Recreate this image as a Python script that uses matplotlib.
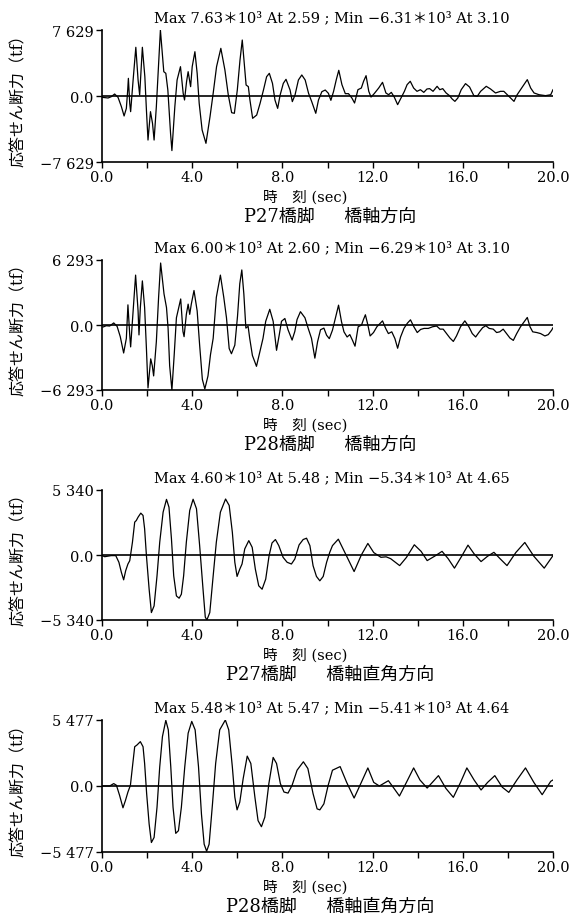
import matplotlib
matplotlib.use("Agg")
import matplotlib.pyplot as plt
import numpy as np

plt.rcParams["font.family"] = ["DejaVu Serif", "Noto Sans CJK JP"]

# response shear force time histories (tf)
p27_axial_t = [
    0.00, 0.27, 0.41, 0.56, 0.71, 0.86, 0.98, 1.08, 1.14, 1.17, 1.23, 1.27, 1.38, 1.50, 1.60,
    1.67, 1.79, 1.90, 1.97, 2.04, 2.15, 2.24, 2.31, 2.41, 2.52, 2.59, 2.74, 2.83, 2.92, 3.04,
    3.10, 3.23, 3.33, 3.48, 3.60, 3.66, 3.75, 3.82, 3.93, 4.00, 4.12, 4.22, 4.31, 4.44, 4.61,
    4.79, 4.93, 5.08, 5.27, 5.45, 5.60, 5.75, 5.87, 6.00, 6.12, 6.22, 6.31, 6.39, 6.49, 6.56,
    6.68, 6.86, 7.01, 7.16, 7.30, 7.42, 7.56, 7.67, 7.79, 7.90, 8.04, 8.16, 8.34, 8.44, 8.56,
    8.71, 8.86, 9.01, 9.16, 9.30, 9.48, 9.60, 9.75, 9.90, 10.04, 10.15, 10.27, 10.39, 10.50,
    10.64, 10.79, 10.93, 11.08, 11.20, 11.35, 11.50, 11.60, 11.71, 11.83, 11.93, 12.07, 12.27,
    12.44, 12.59, 12.71, 12.83, 12.96, 13.11, 13.26, 13.41, 13.53, 13.67, 13.82, 13.97, 14.12,
    14.27, 14.41, 14.53, 14.68, 14.86, 14.98, 15.11, 15.26, 15.41, 15.53, 15.65, 15.78, 15.93,
    16.12, 16.30, 16.49, 16.64, 16.79, 17.04, 17.23, 17.45, 17.67, 17.82, 17.97, 18.12, 18.27,
    18.41, 18.56, 18.71, 18.86, 19.01, 19.16, 19.38, 19.67, 19.90, 20.00,
]
p27_axial_v = [
    -150, -230, -80, 230, -150, -1230, -2310, -1430, 690, 2040, -850, -1810, 1850, 5630, 1850,
    120, 5630, 2230, -1620, -5090, -1810, -3160, -5090, -1230, 4160, 7629, 2810, 2620, 690, -4320,
    -6310, -1230, 1850, 3390, 310, -460, 1660, 2810, 1080, 3390, 5120, 2620, -850, -3930, -5470,
    -2390, 310, 3390, 5510, 3010, 120, -1930, -2000, 690, 4160, 6470, 3780, 1270, 1080, -460,
    -2580, -2200, -850, 690, 2230, 2620, 1460, -460, -1430, 120, 1460, 1930, 690, -650, 120,
    1850, 2430, 1850, 310, -650, -2000, -460, 500, 690, 310, -500, 540, 1890, 2970,
    1310, 270, 270, -230, -810, 730, 920, 1700, 2350, 540, -120, 270, 920,
    1580, 350, 150, 420, -120, -1000, -230, 540, 1310, 1700, 920, 540, 730,
    420, 810, 850, 540, 1120, 730, 850, 350, 40, -350, -620, -230, 730,
    1430, 1040, 40, -40, 540, 1120, 810, 350, 540, 540, 150, -230, -620,
    150, 730, 1310, 1890, 920, 350, 150, 40, 150, 730,
]

p28_axial_t = [
    0.04, 0.19, 0.34, 0.52, 0.67, 0.81, 0.96, 1.08, 1.15, 1.23, 1.27, 1.38, 1.49, 1.60, 1.64,
    1.70, 1.79, 1.89, 1.97, 2.04, 2.16, 2.23, 2.29, 2.41, 2.51, 2.60, 2.75, 2.86, 2.93, 3.00,
    3.10, 3.20, 3.30, 3.49, 3.59, 3.64, 3.74, 3.82, 3.89, 3.96, 4.08, 4.22, 4.33, 4.45, 4.56,
    4.70, 4.81, 4.93, 5.07, 5.25, 5.40, 5.52, 5.64, 5.74, 5.89, 6.01, 6.11, 6.20, 6.29, 6.38,
    6.48, 6.55, 6.67, 6.85, 7.00, 7.14, 7.26, 7.44, 7.59, 7.74, 7.86, 7.96, 8.11, 8.25, 8.43,
    8.55, 8.65, 8.80, 9.00, 9.14, 9.29, 9.44, 9.56, 9.69, 9.84, 9.96, 10.08, 10.22, 10.37,
    10.49, 10.62, 10.73, 10.87, 10.99, 11.11, 11.22, 11.36, 11.51, 11.59, 11.68, 11.79, 11.89,
    12.04, 12.19, 12.34, 12.44, 12.58, 12.70, 12.85, 12.99, 13.11, 13.24, 13.39, 13.54, 13.68,
    13.83, 13.98, 14.13, 14.28, 14.47, 14.66, 14.84, 14.99, 15.13, 15.28, 15.43, 15.58, 15.72,
    15.90, 16.09, 16.27, 16.42, 16.57, 16.71, 16.88, 17.02, 17.17, 17.35, 17.50, 17.64, 17.79,
    17.94, 18.09, 18.24, 18.39, 18.56, 18.73, 18.86, 18.98, 19.10, 19.28, 19.45, 19.64, 19.79,
    19.94, 20.00,
]
p28_axial_v = [
    -200, -70, -100, 200, -130, -1130, -2710, -1290, 1950, -960, -2120, 1360, 4830, 1360, -960,
    1690, 4270, 1690, -2280, -6090, -3280, -3940, -4930, -1620, 2680, 6000, 3010, 1690, -300, -3940,
    -6293, -2950, 700, 2520, -630, -1130, 1030, 2020, 1030, 2020, 3340, 1360, -1950, -5260, -6190,
    -4930, -2880, -1290, 2680, 4830, 2680, 700, -2280, -2780, -1950, 860, 4000, 5330, 3010, -300,
    -130, -1290, -2950, -4000, -2610, -1290, 360, 1520, 360, -2450, -960, 360, 630, -460, -1460,
    -630, 530, 1290, 700, -300, -1290, -3210, -1620, -460, -300, -990, -1320, -500, 830,
    1920, 330, -660, -1160, -930, -1490, -2050, -170, 0, 500, 990, 0, -1060,
    -730, -170, 170, 400, -330, -830, -660, -1320, -2250, -1160, -330, 170, 500,
    -170, -730, -430, -330, -330, -170, -100, -400, -400, -830, -1260, -1590, -1060,
    -170, 400, -170, -830, -1160, -730, -260, -70, -330, -400, -730, -660, -400,
    -830, -1260, -1490, -830, -170, 330, 730, -170, -660, -730, -830, -1060, -930,
    -500, -260,
]

p27_trans_t = [
    0.00, 0.12, 0.41, 0.61, 0.75, 0.86, 0.96, 1.05, 1.15, 1.23, 1.35, 1.45, 1.52, 1.60, 1.72,
    1.82, 1.89, 1.97, 2.09, 2.19, 2.31, 2.44, 2.56, 2.71, 2.86, 2.97, 3.08, 3.18, 3.30, 3.42,
    3.52, 3.62, 3.74, 3.89, 4.04, 4.19, 4.33, 4.48, 4.58, 4.65, 4.78, 4.93, 5.07, 5.25, 5.48,
    5.64, 5.78, 5.89, 5.99, 6.11, 6.21, 6.33, 6.51, 6.66, 6.80, 6.95, 7.10, 7.26, 7.41, 7.54,
    7.69, 7.84, 8.03, 8.21, 8.40, 8.55, 8.74, 8.92, 9.07, 9.22, 9.36, 9.51, 9.66, 9.81, 9.96,
    10.10, 10.22, 10.48, 10.85, 11.18, 11.50, 11.79, 12.05, 12.37, 12.60, 12.80, 13.20, 13.50,
    13.85, 14.15, 14.42, 14.75, 15.08, 15.35, 15.63, 15.95, 16.23, 16.50, 16.81, 17.10, 17.38,
    17.65, 17.96, 18.35, 18.75, 19.15, 19.61, 20.00,
]
p27_trans_v = [
    -50, -140, -50, -50, -600, -1430, -2040, -1290, -740, -470, 1050, 2700, 2830, 3110, 3440,
    3250, 2150, -50, -2810, -4730, -4180, -1710, 1050, 3520, 4570, 3930, 1320, -1710, -3360, -3550,
    -3220, -1710, 1050, 3660, 4580, 3800, 770, -2810, -5100, -5340, -4730, -1710, 1050, 3520, 4600,
    4070, 1870, -600, -1760, -1160, -740, 500, 1180, 630, -1160, -2530, -2810, -1980, -50, 990,
    1270, 770, -190, -600, -740, -330, 830, 1270, 1380, 770, -880, -1760, -2120, -1760, -600,
    220, 770, 1300, -100, -1360, 0, 950, 200, -190, -150, -300, -870, -200,
    840, 300, -460, -100, 300, -300, -1080, -100, 810, 100, -540, -100, 220,
    -300, -870, 200, 1030, -100, -1080, -50,
]

p28_trans_t = [
    0.00, 0.34, 0.52, 0.64, 0.78, 0.93, 1.04, 1.15, 1.26, 1.35, 1.45, 1.55, 1.70, 1.82, 1.89,
    1.98, 2.09, 2.19, 2.31, 2.44, 2.56, 2.68, 2.83, 2.94, 3.05, 3.15, 3.27, 3.39, 3.52, 3.67,
    3.82, 3.98, 4.13, 4.28, 4.41, 4.53, 4.64, 4.75, 4.90, 5.04, 5.22, 5.47, 5.62, 5.78, 5.89,
    5.99, 6.11, 6.26, 6.44, 6.60, 6.78, 6.92, 7.07, 7.22, 7.40, 7.59, 7.74, 7.91, 8.07, 8.25,
    8.43, 8.65, 8.93, 9.13, 9.36, 9.54, 9.66, 9.84, 10.03, 10.22, 10.56, 10.85, 11.18, 11.50,
    11.79, 12.05, 12.30, 12.70, 12.95, 13.19, 13.50, 13.82, 14.10, 14.42, 14.65, 14.92, 15.25,
    15.58, 15.90, 16.18, 16.50, 16.81, 17.10, 17.42, 17.75, 18.04, 18.40, 18.78, 19.15, 19.52,
    19.90, 20.00,
]
p28_trans_v = [
    0, 0, 200, 60, -780, -1810, -1200, -500, 60, 1590, 3260, 3400, 3680, 3260, 1870,
    -640, -3150, -4690, -4270, -1760, 1590, 4100, 5450, 4660, 1590, -1760, -3930, -3710, -1760, 1590,
    4380, 5360, 4660, 1590, -2320, -4830, -5410, -4830, -1480, 1870, 4660, 5477, 4660, 1590, -920,
    -1980, -1340, 610, 2480, 1870, -920, -2870, -3380, -2590, 200, 2370, 1870, 200, -500, -590,
    60, 1310, 2010, 1450, -640, -1900, -1980, -1480, 60, 1310, 1610, 300, -1000, 300,
    1500, 300, 0, 440, -200, -830, 300, 1500, 500, -170, 300, 860, -200,
    -940, 300, 1500, 500, -330, 300, 860, -100, -530, 500, 1500, 300, -720,
    390, 500,
]

subtitles = ["P27橋脚　  橋軸方向", "P28橋脚　  橋軸方向", "P27橋脚　  橋軸直角方向", "P28橋脚　  橋軸直角方向"]
x_ticks = [0, 2, 4, 6, 8, 10, 12, 14, 16, 18, 20]

# axes top / bottom edges in pixels of the 586x920 image
AXES_PX = [(31, 163), (261, 391), (491, 621), (721, 853)]
LEFT_PX, RIGHT_PX = 102, 553
W, H = 586, 920


def fmt_tf(x):
    s = f"{abs(x):,.0f}".replace(",", " ")
    return ("−" if x < 0 else "") + s


def draw_panel(ax, t, v, subtitle):
    t = np.asarray(t, dtype=float)
    v = np.asarray(v, dtype=float)
    lim = np.max(np.abs(v))

    ax.plot(t, v, color="black", lw=0.9, solid_joinstyle="round")
    ax.axhline(0, color="black", lw=1.2)
    ax.set_xlim(0, 20)
    ax.set_ylim(-lim, lim)

    ax.set_xticks(x_ticks)
    ax.set_xticklabels([f"{x:.1f}" if x % 4 == 0 else "" for x in x_ticks])
    ax.set_yticks([-lim, 0, lim])
    ax.set_yticklabels([fmt_tf(-lim), "0.0", fmt_tf(lim)])
    for side in ("top", "right"):
        ax.spines[side].set_visible(False)
    for side in ("left", "bottom"):
        ax.spines[side].set_linewidth(1.2)
    ax.tick_params(direction="out", length=4, width=1.0, labelsize=10.5, pad=2)

    imax, imin = int(np.argmax(v)), int(np.argmin(v))
    header = (f"Max {v[imax] / 1000:.2f}＊10³ At {t[imax]:.2f} ; "
              f"Min −{abs(v[imin]) / 1000:.2f}＊10³ At {t[imin]:.2f}")
    ax.annotate(header, xy=(0.51, 1), xycoords="axes fraction", xytext=(0, 9),
                textcoords="offset points", ha="center", va="center", fontsize=10.5)
    ax.annotate("時　刻 (sec)", xy=(0.45, 0), xycoords="axes fraction", xytext=(0, -25),
                textcoords="offset points", ha="center", va="center", fontsize=10.5)
    ax.annotate(subtitle, xy=(0.505, 0), xycoords="axes fraction", xytext=(0, -39),
                textcoords="offset points", ha="center", va="center", fontsize=13)


def main():
    series = [
        (p27_axial_t, p27_axial_v),
        (p28_axial_t, p28_axial_v),
        (p27_trans_t, p27_trans_v),
        (p28_trans_t, p28_trans_v),
    ]
    fig = plt.figure(figsize=(W / 100, H / 100), dpi=100)
    for (t, v), subtitle, (top, bottom) in zip(series, subtitles, AXES_PX):
        ax = fig.add_axes([LEFT_PX / W, 1 - bottom / H, (RIGHT_PX - LEFT_PX) / W, (bottom - top) / H])
        draw_panel(ax, t, v, subtitle)
        fig.text(18 / W, 1 - (top + bottom) / 2 / H, "応答せん断力（tf）", rotation=90,
                 ha="center", va="center", fontsize=11.5)

    fig.savefig("out.png", dpi=100)
    plt.close(fig)


if __name__ == "__main__":
    main()
